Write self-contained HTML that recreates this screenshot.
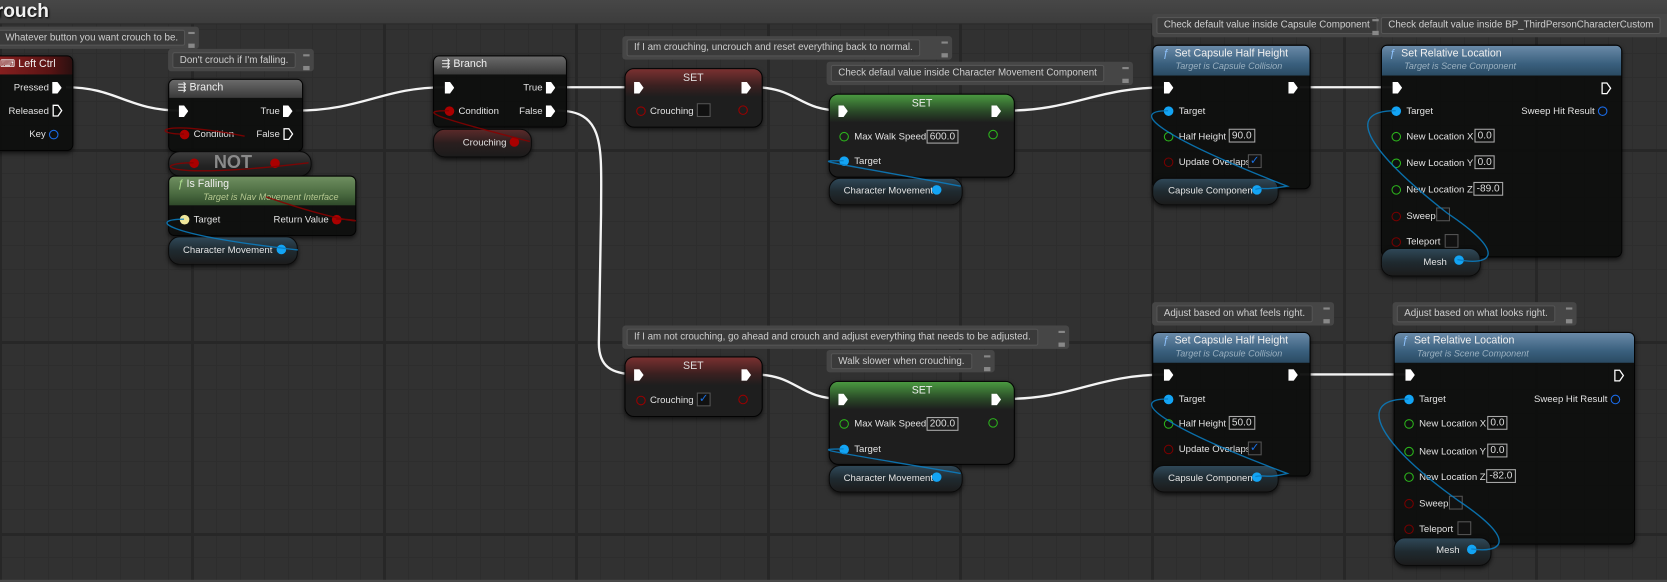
<!DOCTYPE html>
<html><head><meta charset="utf-8">
<style>
html,body{margin:0;padding:0}
body{width:1667px;height:582px;overflow:hidden;position:relative;
background-color:#313131;
background-image:
linear-gradient(#272727 0 3px,transparent 3px),
linear-gradient(90deg,#272727 0 3px,transparent 3px),
linear-gradient(#2d2d2d 0 1px,transparent 1px),
linear-gradient(90deg,#2d2d2d 0 1px,transparent 1px);
background-size:192px 192px,192px 192px,24px 24px,24px 24px;
background-position:0 149px,-1px 0,0 5px,0 0;
font-family:"Liberation Sans",sans-serif}
#c{position:absolute;left:0;top:0;width:1567px;height:547px;transform:scale(1.06382);transform-origin:0 0}
#top{position:absolute;left:0;top:0;width:1567px;height:22px;background:linear-gradient(#474747,#3c3c3c);border-bottom:1px solid #2a2a2a}
#top b{position:absolute;left:-4px;top:0px;font:bold 18px "Liberation Sans",sans-serif;color:#f2f2f2;text-shadow:1px 1px 2px #000}
.n{position:absolute;background:rgba(14,15,14,.96);border:1px solid #030303;border-radius:6px;box-shadow:0 2px 4px rgba(0,0,0,.6);overflow:hidden}
.h{position:absolute;left:0;right:0;top:0}
.v{position:absolute;border-radius:11px;border:1px solid #0a0a0a;box-shadow:0 2px 4px rgba(0,0,0,.7);background:linear-gradient(#3c3c3c,#222 60%,#1c1c1c)}
.t{position:absolute;font-size:9px;line-height:12px;color:#e2e2e2;white-space:nowrap}
.r{transform:translateX(-100%)}
.ti{position:absolute;font-size:10px;line-height:12px;color:#f0f0f0;white-space:nowrap}
.sub{position:absolute;font-size:8.5px;font-style:italic;line-height:11px;white-space:nowrap}
.cm{position:absolute;background:#464646;border-radius:3px}
.cm span{position:absolute;left:4px;top:3px;bottom:3px;background:#3a3a3a;border:1px solid #555;border-radius:2px;font-size:9.2px;line-height:13px;color:#cfcfcf;padding:0 6px;white-space:nowrap}
.cm i{position:absolute;right:4px;top:5px;width:6px;height:9px;border-top:2px solid #888;border-bottom:4px solid #888}
.xf{position:absolute;width:9px;height:11px;background:#fff;clip-path:polygon(0 0,55% 0,100% 50%,55% 100%,0 100%)}
.dp{position:absolute;width:9px;height:9px;border-radius:50%;box-sizing:border-box}
.bx{position:absolute;border:1px solid #aaa;height:13px;font-size:9.5px;line-height:12px;color:#ddd;padding:0 2px;box-sizing:border-box}
.ck{position:absolute;width:13px;height:13px;border:1px solid #555;background:#111;box-sizing:border-box;color:#1a6fe0;font-size:11px;line-height:11px;text-align:center}
svg{position:absolute;left:0;top:0}
</style></head><body>
<div id="c">
<div id="top"><b>rouch</b></div>

<svg width="1567" height="547">
<g fill="none" stroke="#f4f4f4" stroke-width="2.2">
<path d="M62 82 C110 82,120 104,170 104"/>
<path d="M278 104 C340 104,360 82,418 82"/>
<path d="M524 82 L600 82"/>
<path d="M708 82 C750 82,750 104,792 104"/>
<path d="M945 104 C1010 104,1030 82,1098 82"/>
<path d="M1222 82 L1313 82"/>
<path d="M524 104 C570 104,565 140,565 200 L563 320 C562 345,575 352,600 352"/>
<path d="M708 352 C750 352,750 375,792 375"/>
<path d="M945 375 C1010 375,1030 352,1098 352"/>
<path d="M1222 352 L1325 352"/>
</g>
</svg>

<div class="cm" style="left:-6px;top:25px;width:193px;height:21px"><span>Whatever button you want crouch to be.</span><i></i></div>
<div class="cm" style="left:158px;top:46px;width:137px;height:21px"><span>Don't crouch if I'm falling.</span><i></i></div>
<div class="cm" style="left:585px;top:34px;width:310px;height:22px"><span>If I am crouching, uncrouch and reset everything back to normal.</span><i></i></div>
<div class="cm" style="left:777px;top:58px;width:288px;height:22px"><span>Check defaul value inside Character Movement Component</span><i></i></div>
<div class="cm" style="left:1083px;top:13px;width:217px;height:22px"><span>Check default value inside Capsule Component</span><i></i></div>
<div class="cm" style="left:1297px;top:13px;width:275px;height:22px"><span style="left:1px">Check default value inside BP_ThirdPersonCharacterCustom</span></div>
<div class="cm" style="left:585px;top:306px;width:420px;height:22px"><span>If I am not crouching, go ahead and crouch and adjust everything that needs to be adjusted.</span><i></i></div>
<div class="cm" style="left:777px;top:329px;width:158px;height:21px"><span>Walk slower when crouching.</span><i></i></div>
<div class="cm" style="left:1083px;top:284px;width:171px;height:22px"><span>Adjust based on what feels right.</span><i></i></div>
<div class="cm" style="left:1309px;top:284px;width:173px;height:22px"><span>Adjust based on what looks right.</span><i></i></div>

<!-- Left Ctrl -->
<div class="n" style="left:-6px;top:52px;width:73px;height:88px"><div class="h" style="height:17px;background:linear-gradient(90deg,#8a2020,#5a1414 70%,#2a1010)"></div></div>
<div class="ti" style="left:0px;top:55px">&#9000; Left Ctrl</div>
<div class="t r" style="left:46px;top:76px">Pressed</div><div class="xf" style="left:49px;top:77px"></div>
<div class="t r" style="left:46px;top:98px">Released</div>
<svg style="left:49px;top:98px" width="10" height="12"><path d="M1 1h4.5l3.5 5-3.5 5H1z" fill="none" stroke="#fff" stroke-width="1.2"/></svg>
<div class="t r" style="left:43px;top:120px">Key</div><div class="dp" style="left:46px;top:122px;border:1.5px solid #1a6be8"></div>

<!-- Branch 1 -->
<div class="n" style="left:158px;top:74px;width:125px;height:67px"><div class="h" style="height:17px;background:linear-gradient(#6a6a6a,#3a3a3a)"></div></div>
<div class="ti" style="left:167px;top:77px">&#8694; Branch</div>
<div class="xf" style="left:168px;top:99px"></div>
<div class="t r" style="left:263px;top:98px">True</div><div class="xf" style="left:266px;top:99px"></div>
<div class="dp" style="left:169px;top:122px;background:#a00"></div><div class="t" style="left:182px;top:120px">Condition</div>
<div class="t r" style="left:263px;top:120px">False</div>
<svg style="left:266px;top:120px" width="10" height="12"><path d="M1 1h4.5l3.5 5-3.5 5H1z" fill="none" stroke="#fff" stroke-width="1.2"/></svg>

<div class="v" style="left:158px;top:142px;width:133px;height:22px"></div>
<div style="position:absolute;left:201px;top:143px;font:bold 17px 'Liberation Sans',sans-serif;color:#8a8a8a">NOT</div>
<div class="dp" style="left:178px;top:149px;background:#a00"></div><div class="dp" style="left:254px;top:149px;background:#a00"></div>

<!-- Is Falling -->
<div class="n" style="left:158px;top:165px;width:175px;height:55px"><div class="h" style="height:27px;background:linear-gradient(#6f8f60,#4a6a40 60%,#2f4a2a)"></div></div>
<div class="ti" style="left:167px;top:168px"><i style="color:#aee090">ƒ</i> Is Falling</div>
<div class="sub" style="left:191px;top:180px;color:#b5c890">Target is Nav Movement Interface</div>
<div class="dp" style="left:169px;top:202px;background:#eee69a"></div><div class="t" style="left:182px;top:200px">Target</div>
<div class="t r" style="left:309px;top:200px">Return Value</div><div class="dp" style="left:312px;top:202px;background:#a00"></div>

<div class="v" style="left:158px;top:222px;width:120px;height:25px;background:linear-gradient(#2f4858,#1f2a30 50%,#1c1c1c)"></div>
<div class="t" style="left:172px;top:229px">Character Movement</div><div class="dp" style="left:260px;top:230px;background:#13a4f4"></div>

<!-- Branch 2 -->
<div class="n" style="left:407px;top:52px;width:124px;height:66px"><div class="h" style="height:17px;background:linear-gradient(#6a6a6a,#3a3a3a)"></div></div>
<div class="ti" style="left:415px;top:55px">&#8694; Branch</div>
<div class="xf" style="left:418px;top:77px"></div>
<div class="t r" style="left:510px;top:76px">True</div><div class="xf" style="left:513px;top:77px"></div>
<div class="dp" style="left:418px;top:100px;background:#a00"></div><div class="t" style="left:431px;top:98px">Condition</div>
<div class="t r" style="left:510px;top:98px">False</div><div class="xf" style="left:513px;top:99px"></div>
<div class="v" style="left:407px;top:121px;width:91px;height:25px;background:linear-gradient(#5a2a2a,#2a1e1e 50%,#1c1c1c)"></div>
<div class="t" style="left:435px;top:128px">Crouching</div><div class="dp" style="left:479px;top:129px;background:#a00"></div>

<!-- SET 1 -->
<div class="n" style="left:587px;top:64px;width:128px;height:54px;border-radius:9px;background:#1e1e1e"><div class="h" style="height:26px;background:linear-gradient(#7a3030,#3a2020 60%,#1e1e1e)"></div></div>
<div class="ti" style="left:642px;top:68px;color:#ddd">SET</div>
<div class="xf" style="left:596px;top:77px"></div><div class="xf" style="left:697px;top:77px"></div>
<div class="dp" style="left:598px;top:100px;border:1.5px solid #900"></div><div class="t" style="left:611px;top:98px">Crouching</div>
<div class="ck" style="left:655px;top:97px"></div><div class="dp" style="left:694px;top:99px;border:1.5px solid #900"></div>

<!-- SET 2 -->
<div class="n" style="left:779px;top:88px;width:173px;height:77px;border-radius:9px;background:#1e1e1e"><div class="h" style="height:26px;background:linear-gradient(#4a9a40,#2a4a28 60%,#1e1e1e)"></div></div>
<div class="ti" style="left:857px;top:92px;color:#eee">SET</div>
<div class="xf" style="left:788px;top:99px"></div><div class="xf" style="left:932px;top:99px"></div>
<div class="dp" style="left:789px;top:124px;border:1.5px solid #2cb41c"></div><div class="t" style="left:803px;top:122px">Max Walk Speed</div>
<div class="bx" style="left:871px;top:122px">600.0</div><div class="dp" style="left:929px;top:122px;border:1.5px solid #2cb41c"></div>
<div class="dp" style="left:789px;top:147px;background:#13a4f4"></div><div class="t" style="left:803px;top:145px">Target</div>
<div class="v" style="left:779px;top:167px;width:124px;height:24px;background:linear-gradient(#2f4858,#1f2a30 50%,#1c1c1c)"></div>
<div class="t" style="left:793px;top:173px">Character Movement</div><div class="dp" style="left:876px;top:174px;background:#13a4f4"></div>

<!-- Capsule 1 -->
<div class="n" style="left:1083px;top:42px;width:147px;height:134px"><div class="h" style="height:28px;background:linear-gradient(#6a8aa8,#3a607e 60%,#2a4a62)"></div></div>
<div class="ti" style="left:1093px;top:45px"><i style="color:#8fc4ff">ƒ</i>&nbsp; Set Capsule Half Height</div>
<div class="sub" style="left:1105px;top:57px;color:#9ab0c0">Target is Capsule Collision</div>
<div class="xf" style="left:1094px;top:77px"></div><div class="xf" style="left:1211px;top:77px"></div>
<div class="dp" style="left:1094px;top:100px;background:#13a4f4"></div><div class="t" style="left:1108px;top:98px">Target</div>
<div class="dp" style="left:1094px;top:124px;border:1.5px solid #2cb41c"></div><div class="t" style="left:1108px;top:122px">Half Height</div><div class="bx" style="left:1155px;top:121px">90.0</div>
<div class="dp" style="left:1094px;top:148px;border:1.5px solid #700"></div><div class="t" style="left:1108px;top:146px">Update Overlaps</div><div class="ck" style="left:1173px;top:145px">✓</div>
<div class="v" style="left:1083px;top:167px;width:117px;height:24px;background:linear-gradient(#2f4858,#1f2a30 50%,#1c1c1c)"></div>
<div class="t" style="left:1098px;top:173px">Capsule Component</div><div class="dp" style="left:1177px;top:174px;background:#13a4f4"></div>

<!-- SRL 1 -->
<div class="n" style="left:1298px;top:42px;width:225px;height:198px"><div class="h" style="height:28px;background:linear-gradient(#6a8aa8,#3a607e 60%,#2a4a62)"></div></div>
<div class="ti" style="left:1306px;top:45px"><i style="color:#8fc4ff">ƒ</i>&nbsp; Set Relative Location</div>
<div class="sub" style="left:1320px;top:57px;color:#9ab0c0">Target is Scene Component</div>
<div class="xf" style="left:1309px;top:77px"></div>
<svg style="left:1505px;top:77px" width="10" height="12"><path d="M1 1h4.5l3.5 5-3.5 5H1z" fill="none" stroke="#fff" stroke-width="1.2"/></svg>
<div class="dp" style="left:1308px;top:100px;background:#13a4f4"></div><div class="t" style="left:1322px;top:98px">Target</div>
<div class="t r" style="left:1499px;top:98px">Sweep Hit Result</div><div class="dp" style="left:1502px;top:100px;border:1.5px solid #1a6be8"></div>
<div class="dp" style="left:1308px;top:124px;border:1.5px solid #2cb41c"></div><div class="t" style="left:1322px;top:122px">New Location X</div><div class="bx" style="left:1386px;top:121px">0.0</div>
<div class="dp" style="left:1308px;top:149px;border:1.5px solid #2cb41c"></div><div class="t" style="left:1322px;top:147px">New Location Y</div><div class="bx" style="left:1386px;top:146px">0.0</div>
<div class="dp" style="left:1308px;top:174px;border:1.5px solid #2cb41c"></div><div class="t" style="left:1322px;top:172px">New Location Z</div><div class="bx" style="left:1385px;top:171px">-89.0</div>
<div class="dp" style="left:1308px;top:199px;border:1.5px solid #700"></div><div class="t" style="left:1322px;top:197px">Sweep</div><div class="ck" style="left:1350px;top:195px"></div>
<div class="dp" style="left:1308px;top:223px;border:1.5px solid #700"></div><div class="t" style="left:1322px;top:221px">Teleport</div><div class="ck" style="left:1358px;top:220px"></div>
<div class="v" style="left:1298px;top:233px;width:92px;height:25px;background:linear-gradient(#2f4858,#1f2a30 50%,#1c1c1c)"></div>
<div class="t" style="left:1338px;top:240px">Mesh</div><div class="dp" style="left:1367px;top:240px;background:#13a4f4"></div>

<!-- SET 3 -->
<div class="n" style="left:587px;top:335px;width:128px;height:55px;border-radius:9px;background:#1e1e1e"><div class="h" style="height:26px;background:linear-gradient(#7a3030,#3a2020 60%,#1e1e1e)"></div></div>
<div class="ti" style="left:642px;top:339px;color:#ddd">SET</div>
<div class="xf" style="left:596px;top:347px"></div><div class="xf" style="left:697px;top:347px"></div>
<div class="dp" style="left:598px;top:372px;border:1.5px solid #900"></div><div class="t" style="left:611px;top:370px">Crouching</div>
<div class="ck" style="left:655px;top:369px">✓</div><div class="dp" style="left:694px;top:371px;border:1.5px solid #900"></div>

<!-- SET 4 -->
<div class="n" style="left:779px;top:358px;width:173px;height:77px;border-radius:9px;background:#1e1e1e"><div class="h" style="height:26px;background:linear-gradient(#4a9a40,#2a4a28 60%,#1e1e1e)"></div></div>
<div class="ti" style="left:857px;top:362px;color:#eee">SET</div>
<div class="xf" style="left:788px;top:370px"></div><div class="xf" style="left:932px;top:370px"></div>
<div class="dp" style="left:789px;top:394px;border:1.5px solid #2cb41c"></div><div class="t" style="left:803px;top:392px">Max Walk Speed</div>
<div class="bx" style="left:871px;top:392px">200.0</div><div class="dp" style="left:929px;top:393px;border:1.5px solid #2cb41c"></div>
<div class="dp" style="left:789px;top:418px;background:#13a4f4"></div><div class="t" style="left:803px;top:416px">Target</div>
<div class="v" style="left:779px;top:437px;width:124px;height:24px;background:linear-gradient(#2f4858,#1f2a30 50%,#1c1c1c)"></div>
<div class="t" style="left:793px;top:443px">Character Movement</div><div class="dp" style="left:876px;top:444px;background:#13a4f4"></div>

<!-- Capsule 2 -->
<div class="n" style="left:1083px;top:312px;width:147px;height:134px"><div class="h" style="height:28px;background:linear-gradient(#6a8aa8,#3a607e 60%,#2a4a62)"></div></div>
<div class="ti" style="left:1093px;top:315px"><i style="color:#8fc4ff">ƒ</i>&nbsp; Set Capsule Half Height</div>
<div class="sub" style="left:1105px;top:327px;color:#9ab0c0">Target is Capsule Collision</div>
<div class="xf" style="left:1094px;top:347px"></div><div class="xf" style="left:1211px;top:347px"></div>
<div class="dp" style="left:1094px;top:371px;background:#13a4f4"></div><div class="t" style="left:1108px;top:369px">Target</div>
<div class="dp" style="left:1094px;top:394px;border:1.5px solid #2cb41c"></div><div class="t" style="left:1108px;top:392px">Half Height</div><div class="bx" style="left:1155px;top:391px">50.0</div>
<div class="dp" style="left:1094px;top:418px;border:1.5px solid #700"></div><div class="t" style="left:1108px;top:416px">Update Overlaps</div><div class="ck" style="left:1173px;top:415px">✓</div>
<div class="v" style="left:1083px;top:437px;width:117px;height:24px;background:linear-gradient(#2f4858,#1f2a30 50%,#1c1c1c)"></div>
<div class="t" style="left:1098px;top:443px">Capsule Component</div><div class="dp" style="left:1177px;top:444px;background:#13a4f4"></div>

<!-- SRL 2 -->
<div class="n" style="left:1310px;top:312px;width:225px;height:198px"><div class="h" style="height:28px;background:linear-gradient(#6a8aa8,#3a607e 60%,#2a4a62)"></div></div>
<div class="ti" style="left:1318px;top:315px"><i style="color:#8fc4ff">ƒ</i>&nbsp; Set Relative Location</div>
<div class="sub" style="left:1332px;top:327px;color:#9ab0c0">Target is Scene Component</div>
<div class="xf" style="left:1321px;top:347px"></div>
<svg style="left:1517px;top:347px" width="10" height="12"><path d="M1 1h4.5l3.5 5-3.5 5H1z" fill="none" stroke="#fff" stroke-width="1.2"/></svg>
<div class="dp" style="left:1320px;top:371px;background:#13a4f4"></div><div class="t" style="left:1334px;top:369px">Target</div>
<div class="t r" style="left:1511px;top:369px">Sweep Hit Result</div><div class="dp" style="left:1514px;top:371px;border:1.5px solid #1a6be8"></div>
<div class="dp" style="left:1320px;top:394px;border:1.5px solid #2cb41c"></div><div class="t" style="left:1334px;top:392px">New Location X</div><div class="bx" style="left:1398px;top:391px">0.0</div>
<div class="dp" style="left:1320px;top:420px;border:1.5px solid #2cb41c"></div><div class="t" style="left:1334px;top:418px">New Location Y</div><div class="bx" style="left:1398px;top:417px">0.0</div>
<div class="dp" style="left:1320px;top:444px;border:1.5px solid #2cb41c"></div><div class="t" style="left:1334px;top:442px">New Location Z</div><div class="bx" style="left:1397px;top:441px">-82.0</div>
<div class="dp" style="left:1320px;top:469px;border:1.5px solid #700"></div><div class="t" style="left:1334px;top:467px">Sweep</div><div class="ck" style="left:1362px;top:466px"></div>
<div class="dp" style="left:1320px;top:493px;border:1.5px solid #700"></div><div class="t" style="left:1334px;top:491px">Teleport</div><div class="ck" style="left:1370px;top:490px"></div>
<div class="v" style="left:1310px;top:505px;width:90px;height:25px;background:linear-gradient(#2f4858,#1f2a30 50%,#1c1c1c)"></div>
<div class="t" style="left:1350px;top:511px">Mesh</div><div class="dp" style="left:1379px;top:512px;background:#13a4f4"></div>

<svg width="1567" height="547">
<g fill="none" stroke-width="1.3" opacity="0.85">
<path d="M173 126 C140 126,150 112,230 128" stroke="#8a0000"/>
<path d="M182 153 C140 153,150 170,290 153" stroke="#8a0000"/>
<path d="M316 206 C350 206,340 216,250 185" stroke="#8a0000"/>
<path d="M173 206 C140 206,150 220,280 235" stroke="#0a7fc4"/>
<path d="M422 104 C395 104,400 108,498 133" stroke="#8a0000"/>
<path d="M793 151 C760 151,780 152,903 175" stroke="#0a7fc4"/>
<path d="M1098 104 C1060 104,1090 128,1210 175 C1180 180,1190 175,1180 178" stroke="#0a7fc4"/>
<path d="M1312 104 C1260 104,1290 145,1360 200 C1420 240,1400 250,1370 244" stroke="#0a7fc4"/>
<path d="M793 422 C760 422,780 424,903 445" stroke="#0a7fc4"/>
<path d="M1098 375 C1060 375,1090 400,1210 445 C1190 450,1190 446,1180 448" stroke="#0a7fc4"/>
<path d="M1324 375 C1270 375,1300 420,1370 470 C1430 510,1410 520,1383 516" stroke="#0a7fc4"/>
</g>
</svg>
<div style="position:absolute;left:0;top:545px;width:1567px;height:2px;background:#4a4a4a"></div>
</div>
</body></html>
